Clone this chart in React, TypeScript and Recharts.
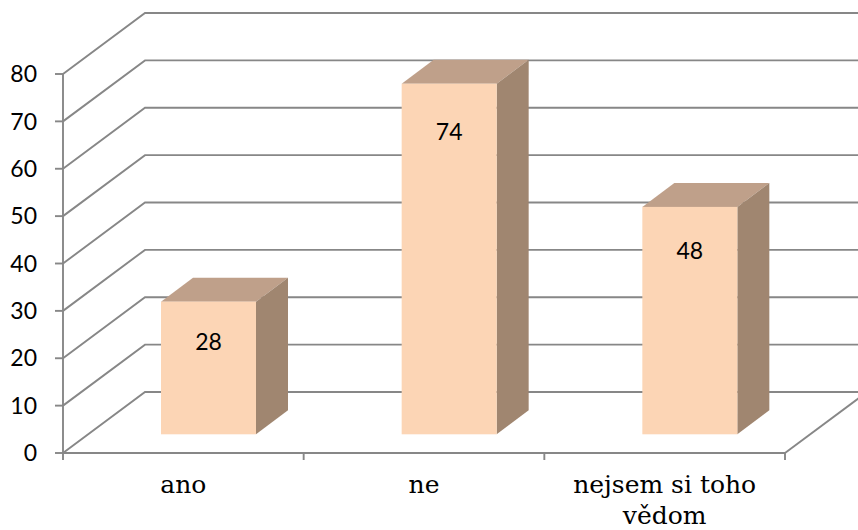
import React from 'react'
import { BarChart, Bar, XAxis, YAxis, CartesianGrid, LabelList } from 'recharts'

const categories = ['ano', 'ne', 'nejsem si toho vědom']
const counts = [28, 74, 48]
const yTicks = [0, 10, 20, 30, 40, 50, 60, 70, 80]

const data = categories.map((name, i) => ({ name, value: counts[i] }))

const W = 858
const H = 530
const Y_AXIS_W = 63
const X_AXIS_H = 77
const MARGIN = { top: 74, right: 73, left: 0, bottom: 0 }
const PLOT_W = W - Y_AXIS_W - MARGIN.right
const BAND = PLOT_W / categories.length
const AXIS_Y = H - X_AXIS_H

// 3d look: back wall offset, bar front pushed into depth, bar depth
const WALL_DX = 82
const WALL_DY = 61
const BAR_DX = 25
const BAR_DY = 18.7
const DEPTH_DX = 32
const DEPTH_DY = 24

const GRID = '#878787'
const LINE_W = 1.9
const FRONT = '#FCD5B5'
const TOP = '#BFA08A'
const SIDE = '#A08670'
const SANS = 'Lato, "Open Sans", sans-serif'
const SERIF = '"DejaVu Serif", serif'
const CAT_FONT = 25

let ctx: CanvasRenderingContext2D | null = null
function textWidth(s: string) {
  if (!ctx) ctx = document.createElement('canvas').getContext('2d')
  if (!ctx) return s.length * CAT_FONT * 0.55
  ctx.font = `${CAT_FONT}px ${SERIF}`
  return ctx.measureText(s).width
}

function wrap(label: string, maxW: number) {
  const lines: string[] = []
  let cur = ''
  for (const word of label.split(' ')) {
    const next = cur ? cur + ' ' + word : word
    if (cur && textWidth(next) > maxW) {
      lines.push(cur)
      cur = word
    } else {
      cur = next
    }
  }
  if (cur) lines.push(cur)
  return lines
}

function WallLine(props: any) {
  const { x1, x2, y1 } = props
  const bx = x1 + WALL_DX
  const by = y1 - WALL_DY
  const floor = Math.abs(y1 - AXIS_Y) < 1.5
  return (
    <g>
      <polyline
        points={`${x1},${y1} ${bx},${by} ${W + 10},${by}`}
        fill='none'
        stroke={GRID}
        strokeWidth={LINE_W}
      />
      {floor ? (
        <line x1={x2} y1={y1} x2={x2 + WALL_DX} y2={by} stroke={GRID} strokeWidth={LINE_W} />
      ) : null}
    </g>
  )
}

function Box(props: any) {
  const { x, y, width, height } = props
  if (!height) return null
  const fx = x + BAR_DX
  const fr = fx + width
  const fy = y - BAR_DY
  const fb = y + height - BAR_DY
  return (
    <g>
      <polygon
        points={`${fx},${fy} ${fx + DEPTH_DX},${fy - DEPTH_DY} ${fr + DEPTH_DX},${fy - DEPTH_DY} ${fr},${fy}`}
        fill={TOP}
      />
      <polygon
        points={`${fr},${fy} ${fr + DEPTH_DX},${fy - DEPTH_DY} ${fr + DEPTH_DX},${fb - DEPTH_DY} ${fr},${fb}`}
        fill={SIDE}
      />
      <rect x={fx} y={fy} width={width} height={fb - fy} fill={FRONT} />
    </g>
  )
}

function BoxLabel(props: any) {
  const { x, y, width, height, value } = props
  const fy = y - BAR_DY
  return (
    <text
      x={x + BAR_DX + width / 2}
      y={fy + 34.6 + 0.0367 * height}
      textAnchor='middle'
      dominantBaseline='central'
      fontFamily={SANS}
      fontSize={23}
      fill='#000'
    >
      {value}
    </text>
  )
}

function CatTick(props: any) {
  const { x, payload, index } = props
  const last = index === categories.length - 1
  const lines = wrap(String(payload.value), 215)
  return (
    <g>
      <line x1={x - BAND / 2} y1={AXIS_Y} x2={x - BAND / 2} y2={AXIS_Y + 7} stroke={GRID} strokeWidth={LINE_W} />
      {last ? (
        <line x1={x + BAND / 2} y1={AXIS_Y} x2={x + BAND / 2} y2={AXIS_Y + 7} stroke={GRID} strokeWidth={LINE_W} />
      ) : null}
      <text x={x} y={AXIS_Y + 40} textAnchor='middle' fontFamily={SERIF} fontSize={CAT_FONT} fill='#000'>
        {lines.map((l, i) => (
          <tspan key={i} x={x} dy={i === 0 ? 0 : 30.6}>
            {l}
          </tspan>
        ))}
      </text>
    </g>
  )
}

export default function App() {
  return (
    <div style={{ position: 'absolute', left: 0, top: 0, background: '#fff' }}>
      <BarChart width={W} height={H} data={data} margin={MARGIN} barSize={95}>
        <CartesianGrid horizontal={WallLine} vertical={false} />
        <XAxis
          dataKey='name'
          height={X_AXIS_H}
          interval={0}
          axisLine={{ stroke: GRID, strokeWidth: LINE_W }}
          tickLine={false}
          tick={<CatTick />}
        />
        <YAxis
          domain={[0, 80]}
          ticks={yTicks}
          interval={0}
          width={Y_AXIS_W}
          axisLine={{ stroke: GRID, strokeWidth: LINE_W }}
          tickLine={{ stroke: GRID, strokeWidth: LINE_W }}
          tickSize={8}
          tickMargin={18}
          tick={{ fill: '#000', fontSize: 23, fontFamily: SANS }}
        />
        <Bar dataKey='value' shape={<Box />} isAnimationActive={false}>
          <LabelList dataKey='value' content={<BoxLabel />} />
        </Bar>
      </BarChart>
    </div>
  )
}
